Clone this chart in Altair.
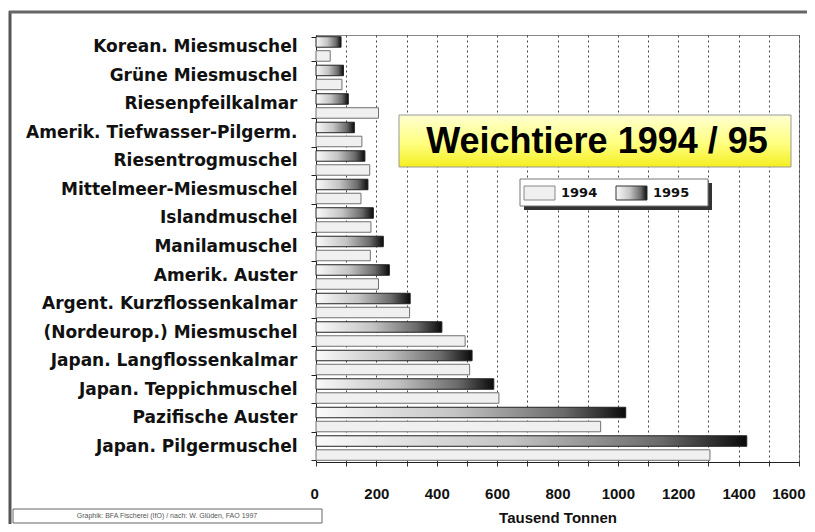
import altair as alt
import pandas as pd

species = [
    "Korean. Miesmuschel", "Grüne Miesmuschel", "Riesenpfeilkalmar",
    "Amerik. Tiefwasser-Pilgerm.", "Riesentrogmuschel", "Mittelmeer-Miesmuschel",
    "Islandmuschel", "Manilamuschel", "Amerik. Auster", "Argent. Kurzflossenkalmar",
    "(Nordeurop.) Miesmuschel", "Japan. Langflossenkalmar", "Japan. Teppichmuschel",
    "Pazifische Auster", "Japan. Pilgermuschel",
]
v1994 = [47, 86, 207, 152, 178, 149, 182, 180, 207, 310, 494, 509, 606, 943, 1305]
v1995 = [83, 91, 107, 127, 162, 172, 190, 223, 243, 312, 417, 517, 589, 1026, 1427]
years = ["1994", "1995"]
x_ticks = list(range(0, 1700, 100))
title_text = "Weichtiere 1994 / 95"
x_title = "Tausend Tonnen"
source_note = "Graphik: BFA Fischerei (IfO) / nach: W. Glüden, FAO 1997"

rows = []
for s, a, b in zip(species, v1994, v1995):
    rows.append({"art": s, "jahr": years[0], "wert": a})
    rows.append({"art": s, "jahr": years[1], "wert": b})
df = pd.DataFrame(rows)

W, H = 483, 427

grad_bar = alt.LinearGradient(
    gradient="linear",
    stops=[
        alt.GradientStop(color="#fafafa", offset=0),
        alt.GradientStop(color="#c4c4c4", offset=0.45),
        alt.GradientStop(color="#6a6a6a", offset=0.8),
        alt.GradientStop(color="#0a0a0a", offset=1),
    ],
    x1=0, x2=1, y1=0, y2=0,
)
grad_title = alt.LinearGradient(
    gradient="linear",
    stops=[
        alt.GradientStop(color="#ffffd0", offset=0),
        alt.GradientStop(color="#ffff80", offset=0.55),
        alt.GradientStop(color="#f4ee20", offset=1),
    ],
    x1=0, x2=0, y1=0, y2=1,
)

y_enc = alt.Y(
    "art:N", sort=species,
    scale=alt.Scale(paddingInner=0.14, paddingOuter=0.06),
    axis=alt.Axis(
        title=None, labelFont="DejaVu Sans", labelFontWeight="bold",
        labelFontSize=17, labelColor="#111", labelPadding=14, tickSize=5,
        tickBand="extent", domainColor="#222", tickColor="#222",
        labelLimit=400, labelOffset=-2,
    ),
)
yoff = alt.YOffset("jahr:N", scale=alt.Scale(domain=["1995", "1994"], paddingInner=0.25, paddingOuter=0))
x_enc = alt.X(
    "wert:Q",
    scale=alt.Scale(domain=[0, 1600], nice=False),
    axis=alt.Axis(
        values=x_ticks, format="d", labelFlush=True, labelFlushOffset=6,
        labelExpr="datum.value % 200 == 0 ? datum.label : ''",
        grid=True, gridDash=[2, 3], gridColor="#444", gridWidth=1,
        labelFont="Liberation Sans", labelFontWeight="bold", labelFontSize=15,
        labelColor="#111", labelPadding=20, tickSize=4, tickColor="#333",
        domainColor="#222", title=x_title, titleFont="Liberation Sans",
        titleFontWeight="bold", titleFontSize=15, titleColor="#111", titlePadding=9,
    ),
)

base = alt.Chart(df).encode(y=y_enc, x=x_enc, yOffset=yoff)
bars94 = base.transform_filter(alt.datum.jahr == years[0]).mark_bar(
    fill="#f0f0f0", stroke="#707070", strokeWidth=1, cornerRadius=0)
bars95 = base.transform_filter(alt.datum.jahr == years[1]).mark_bar(
    fill=grad_bar, stroke="#222", strokeWidth=1)

one = pd.DataFrame({"t": [title_text]})
title_box = alt.Chart(one).mark_rect(fill=grad_title, stroke="#999", strokeWidth=1).encode(
    x=alt.value(83), x2=alt.value(475), y=alt.value(80), y2=alt.value(132))
title_txt = alt.Chart(one).mark_text(
    font="Liberation Sans", fontWeight="bold", fontSize=36, color="#000",
    align="center", baseline="middle").encode(
    x=alt.value(281), y=alt.value(107), text="t:N")

leg_shadow = alt.Chart(one).mark_rect(fill="#333").encode(
    x=alt.value(208), x2=alt.value(396), y=alt.value(148), y2=alt.value(175))
leg_box = alt.Chart(one).mark_rect(fill="white", stroke="#777", strokeWidth=1).encode(
    x=alt.value(204), x2=alt.value(392), y=alt.value(144), y2=alt.value(171))
sw94 = alt.Chart(one).mark_rect(fill="#f0f0f0", stroke="#888").encode(
    x=alt.value(208), x2=alt.value(239), y=alt.value(151), y2=alt.value(165))
sw95 = alt.Chart(one).mark_rect(fill=grad_bar, stroke="#333").encode(
    x=alt.value(300), x2=alt.value(331), y=alt.value(151), y2=alt.value(165))
lt94 = alt.Chart(pd.DataFrame({"t": [years[0]]})).mark_text(
    font="DejaVu Sans", fontWeight="bold", fontSize=13, align="left", baseline="middle", color="#111").encode(
    x=alt.value(245), y=alt.value(158), text="t:N")
lt95 = alt.Chart(pd.DataFrame({"t": [years[1]]})).mark_text(
    font="DejaVu Sans", fontWeight="bold", fontSize=13, align="left", baseline="middle", color="#111").encode(
    x=alt.value(337), y=alt.value(158), text="t:N")

frame_left = alt.Chart(one).mark_rule(color="#555", strokeWidth=3).encode(
    x=alt.value(-306), y=alt.value(-24), y2=alt.value(489))
frame_top = alt.Chart(one).mark_rule(color="#666", strokeWidth=3).encode(
    x=alt.value(-307), x2=alt.value(491), y=alt.value(-23))

note_df = pd.DataFrame({"t": [source_note]})
note_box = alt.Chart(note_df).mark_rect(fill="white", stroke="#666", strokeWidth=1).encode(
    x=alt.value(-303), x2=alt.value(6), y=alt.value(474), y2=alt.value(488))
note_txt = alt.Chart(note_df).mark_text(
    font="Liberation Sans", fontSize=7, color="#555", align="center", baseline="middle").encode(
    x=alt.value(-149), y=alt.value(481), text="t:N")

chart = alt.layer(
    bars94, bars95, title_box, title_txt, leg_shadow, leg_box, sw94, sw95, lt94, lt95,
    frame_left, frame_top, note_box, note_txt,
).properties(
    width=W, height=H,
    autosize=alt.AutoSizeParams(type="none"),
    padding={"left": 308, "top": 27, "right": 8, "bottom": 62},
    background="white",
).configure_view(stroke="#888", strokeWidth=1)

chart.save("out.html", embed_options={"renderer": "svg", "actions": False})
